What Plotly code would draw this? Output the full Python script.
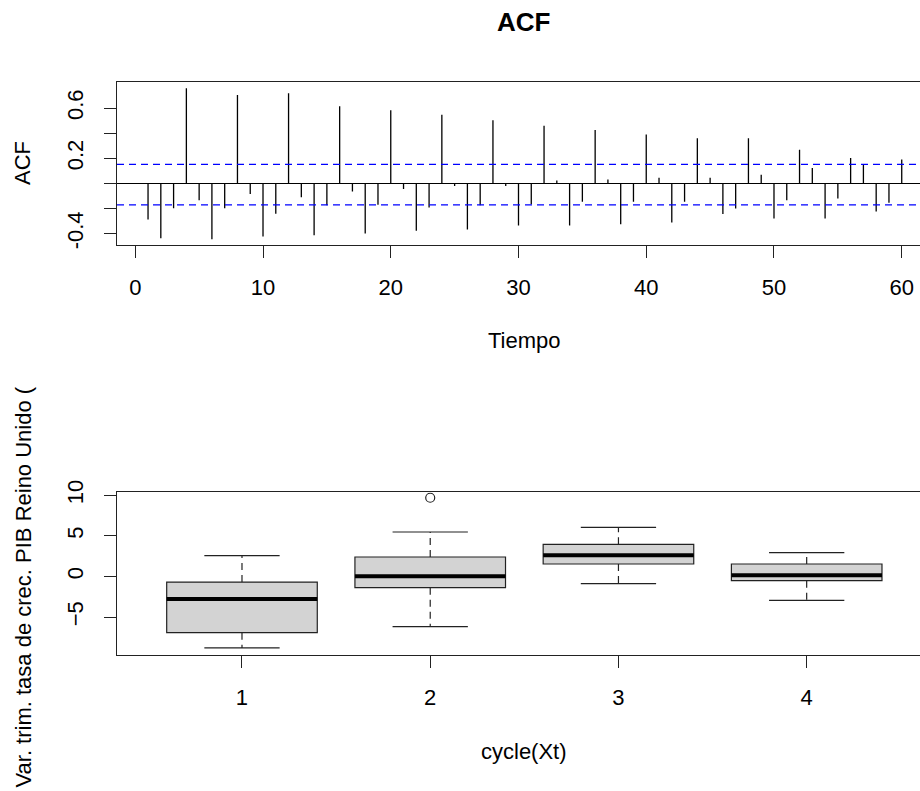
import plotly.graph_objects as go

# ---------------- data ----------------
lags = list(range(1, 61))
acf_vals = [
    -0.287, -0.436, -0.197, 0.757, -0.133, -0.444, -0.197, 0.704, -0.085, -0.422,
    -0.242, 0.717, -0.109, -0.412, -0.173, 0.614, -0.064, -0.398, -0.170, 0.582,
    -0.045, -0.377, -0.191, 0.547, -0.021, -0.367, -0.173, 0.502, -0.021, -0.335,
    -0.165, 0.459, 0.024, -0.335, -0.146, 0.425, 0.032, -0.324, -0.146, 0.390,
    0.045, -0.311, -0.146, 0.359, 0.045, -0.244, -0.199, 0.359, 0.069, -0.279,
    -0.133, 0.268, 0.122, -0.279, -0.120, 0.202, 0.151, -0.223, -0.154, 0.191,
]
ci_upper = 0.152
ci_lower = -0.170

acf_xticks = [0, 10, 20, 30, 40, 50, 60]
acf_yticks = [-0.4, -0.2, 0.0, 0.2, 0.4, 0.6]
acf_yticktext = ["-0.4", "", "", "0.2", "", "0.6"]

cycles = [1, 2, 3, 4]
box_q1 = [-6.92, -1.38, 1.54, -0.51]
box_med = [-2.77, 0.02, 2.61, 0.15]
box_q3 = [-0.68, 2.40, 3.96, 1.54]
whisk_lo = [-8.80, -6.18, -0.88, -2.93]
whisk_hi = [2.56, 5.48, 6.06, 2.93]
out_x = [2]
out_y = [9.7]
box_yticks = [-5, 0, 5, 10]

# ---------------- style ----------------
FONT = "Liberation Sans, Arial, sans-serif"
FS = 22
W, H = 920, 791
ML = 117
box_width = 0.8
cap_width = 0.4

fig = go.Figure()

# ACF spikes (type "h")
sx, sy = [], []
for l, v in zip(lags, acf_vals):
    sx += [l, l, None]
    sy += [0, v, None]
fig.add_trace(go.Scatter(x=sx, y=sy, mode="lines",
                         line=dict(color="black", width=1.3),
                         xaxis="x", yaxis="y", hoverinfo="skip"))

# Boxes
fig.add_trace(go.Box(x=cycles, q1=box_q1, median=box_med, q3=box_q3,
                     lowerfence=box_q1, upperfence=box_q3,
                     width=box_width, fillcolor="#D3D3D3",
                     line=dict(color="#222222", width=1.2),
                     boxpoints=False, xaxis="x2", yaxis="y2"))

# whiskers (dashed)
wx, wy = [], []
for c, q1, q3, lo, hi in zip(cycles, box_q1, box_q3, whisk_lo, whisk_hi):
    wx += [c, c, None, c, c, None]
    wy += [q3, hi, None, q1, lo, None]
fig.add_trace(go.Scatter(x=wx, y=wy, mode="lines",
                         line=dict(color="#222222", width=1.2, dash="7px,5px"),
                         xaxis="x2", yaxis="y2", hoverinfo="skip"))
# caps
cx, cy = [], []
for c, lo, hi in zip(cycles, whisk_lo, whisk_hi):
    cx += [c - cap_width / 2, c + cap_width / 2, None, c - cap_width / 2, c + cap_width / 2, None]
    cy += [hi, hi, None, lo, lo, None]
fig.add_trace(go.Scatter(x=cx, y=cy, mode="lines",
                         line=dict(color="#222222", width=1.2),
                         xaxis="x2", yaxis="y2", hoverinfo="skip"))
# thick medians
mx, my = [], []
for c, m in zip(cycles, box_med):
    mx += [c - box_width / 2, c + box_width / 2, None]
    my += [m, m, None]
fig.add_trace(go.Scatter(x=mx, y=my, mode="lines",
                         line=dict(color="black", width=4),
                         xaxis="x2", yaxis="y2", hoverinfo="skip"))
# outliers
fig.add_trace(go.Scatter(x=out_x, y=out_y, mode="markers",
                         marker=dict(symbol="circle-open", size=9,
                                     color="#222222", line=dict(width=1.2)),
                         xaxis="x2", yaxis="y2", hoverinfo="skip"))

def py(p):
    return (H - p) / H

def px(p):
    return (p - ML) / (W - ML)

axis_common = dict(showgrid=False, ticks="outside", ticklen=12, tickwidth=1,
                   tickcolor="#222222", showline=True, linecolor="#222222",
                   linewidth=1, automargin=False,
                   tickfont=dict(family=FONT, size=FS, color="black"))

fig.update_layout(
    template="none",
    width=W, height=H,
    margin=dict(l=ML, r=0, t=0, b=0, pad=0, autoexpand=False),
    plot_bgcolor="white", paper_bgcolor="white",
    showlegend=False,
    font=dict(family=FONT, size=FS, color="black"),
    xaxis=dict(domain=[0, 1], anchor="y", range=[-1.43, 61.43],
               tickvals=acf_xticks, mirror=True, zeroline=False,
               ticklabelstandoff=11, **axis_common),
    yaxis=dict(domain=[py(245), py(82.3)], anchor="x", range=[-0.49, 0.805],
               tickvals=acf_yticks, ticktext=acf_yticktext, tickangle=-90,
               zeroline=True, zerolinecolor="black", zerolinewidth=1,
               ticklabelstandoff=12, **axis_common),
    xaxis2=dict(domain=[0, 1], anchor="y2", range=[0.336, 4.602],
                tickvals=cycles, mirror=True, zeroline=False,
                ticklabelstandoff=11, **axis_common),
    yaxis2=dict(domain=[py(654.7), py(492.3)], anchor="x2", range=[-9.63, 10.37],
                tickvals=box_yticks, tickangle=-90, zeroline=False,
                ticklabelstandoff=12, **axis_common),
    shapes=[
        dict(type="line", xref="x domain", x0=0, x1=1, yref="y", y0=ci_upper, y1=ci_upper,
             line=dict(color="blue", width=1.2, dash="7px,5px")),
        dict(type="line", xref="x domain", x0=0, x1=1, yref="y", y0=ci_lower, y1=ci_lower,
             line=dict(color="blue", width=1.2, dash="7px,5px")),
    ],
    annotations=[
        dict(text="<b>ACF</b>", xref="paper", yref="paper", x=px(523), y=py(21.5),
             showarrow=False, font=dict(family=FONT, size=26, color="black"),
             xanchor="center", yanchor="middle"),
        dict(text="ACF", xref="paper", yref="paper", x=px(23), y=py(163),
             textangle=-90, showarrow=False, font=dict(family=FONT, size=FS),
             xanchor="center", yanchor="middle"),
        dict(text="Tiempo", xref="paper", yref="paper", x=px(524), y=py(340),
             showarrow=False, font=dict(family=FONT, size=FS),
             xanchor="center", yanchor="middle"),
        dict(text="cycle(Xt)", xref="paper", yref="paper", x=px(524), y=py(751),
             showarrow=False, font=dict(family=FONT, size=FS),
             xanchor="center", yanchor="middle"),
        dict(text="Var. trim. tasa de crec. PIB Reino Unido (", xref="paper", yref="paper",
             x=px(23), y=py(790), textangle=-90, showarrow=False,
             font=dict(family=FONT, size=FS),
             xanchor="center", yanchor="bottom"),
    ],
)

fig.write_html("out.html")
